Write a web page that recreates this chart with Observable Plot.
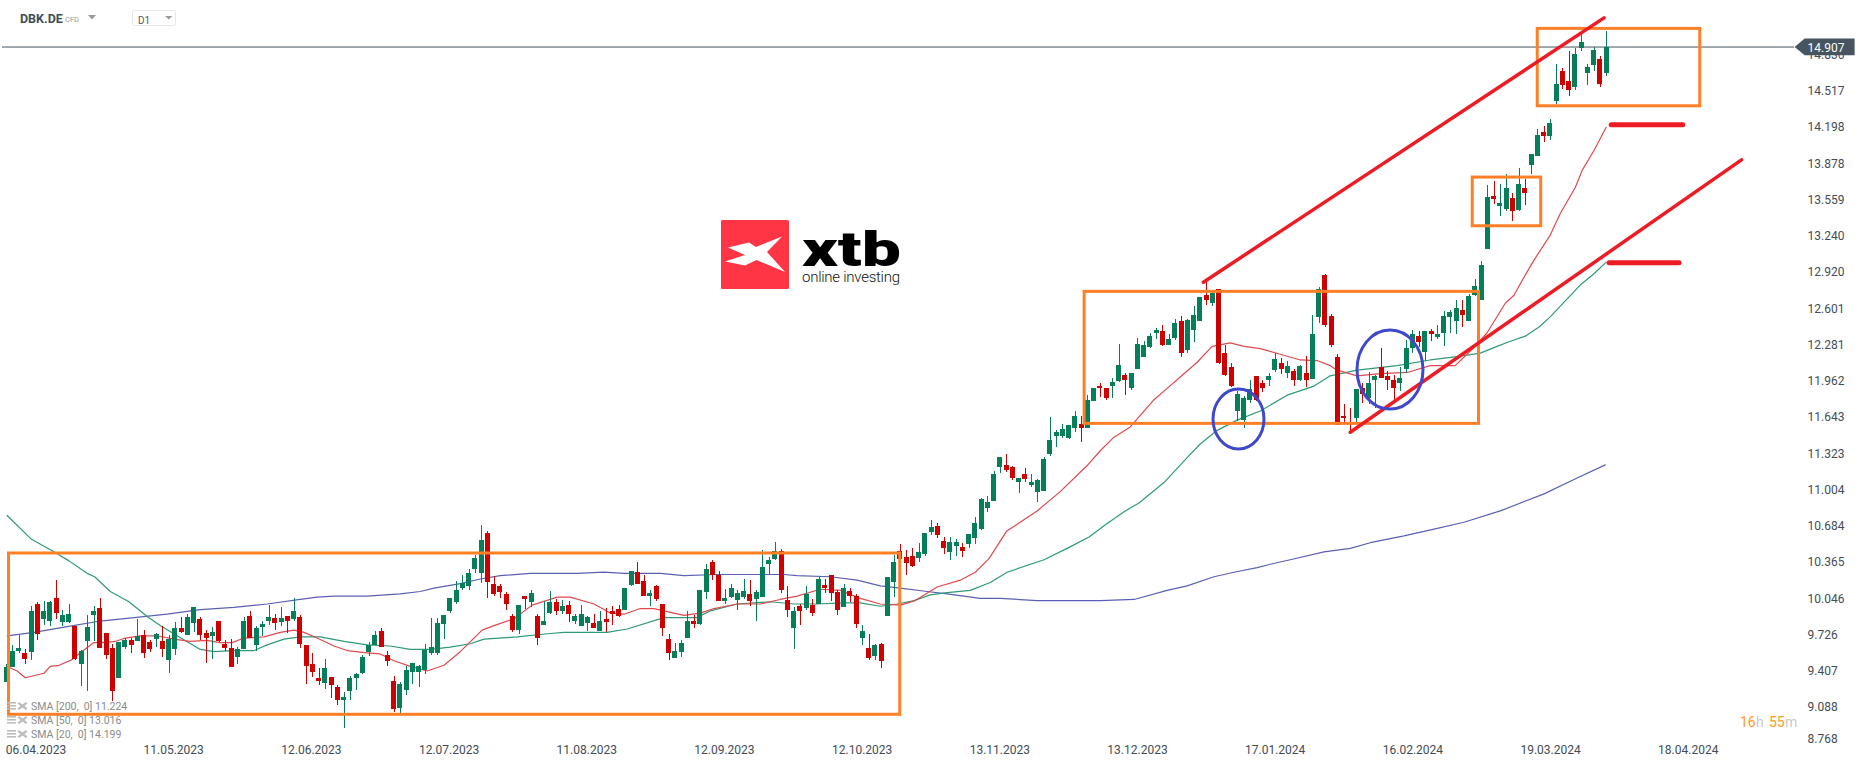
<!DOCTYPE html>
<html>
<head>
<meta charset="utf-8">
<script src="https://cdn.jsdelivr.net/npm/d3@7"></script>
<script src="https://cdn.jsdelivr.net/npm/@observablehq/plot@0.6"></script>
<style>
html,body{margin:0;padding:0;background:#fff;overflow:hidden}
#wrap{position:relative;width:1866px;height:767px;font-family:Roboto,sans-serif}
#wrap svg{display:block}
.abs{position:absolute;white-space:pre;line-height:1}
</style>
</head>
<body>
<div id="wrap"></div>
<script>
const directions = (
  "GGGRGRGGRG"+"GRGGGRRRGG"+"RGRRGRGGRG"+"GRRGRRRGGR"+"GGGRGRGRRR"+"RGRRGGGGGG"+
  "RRRGGGGGGG"+"GGGGGGGRRR"+"RRGRGRGGRG"+"RGGGRGRRRG"+"GRRGRRRGGG"+"RGGRRGGGGR"+
  "GGGGRRGRGR"+"GRRRGRRGRG"+"RGGRRRGGGR"+"RGGRGGGGGG"+"RRGRGGGGGG"+"GGRGGRRGGR"+
  "GGGGGRGGRG"+"GGRGRRRGGG"+"RRGGRGRGRG"+"GRRRRRGRGG"+"RRRGGGRGRG"+"GGGRGGGGRG"+
  "GRGRGGRGGR"+"RGGGGRG").split("");
const highs = [
9.47,9.63,9.72,9.60,9.98,10.01,10.02,10.02,10.21,9.94,
10.00,9.80,9.59,9.90,9.98,10.05,9.74,9.64,9.66,9.70,
9.70,9.86,9.77,9.68,9.74,9.80,9.72,9.84,9.88,9.91,
9.97,9.88,9.77,9.79,9.85,9.68,9.69,9.62,9.88,9.93,
9.80,9.85,9.99,9.91,9.97,9.89,10.05,9.90,9.63,9.56,
9.43,9.51,9.35,9.28,9.22,9.36,9.39,9.55,9.66,9.76,
9.78,9.58,9.36,9.31,9.45,9.48,9.46,9.64,9.87,9.87,
9.90,10.05,10.20,10.25,10.30,10.43,10.69,10.64,10.24,10.17,
10.10,9.91,9.99,10.07,10.12,9.91,10.02,10.11,10.04,10.03,
10.02,9.91,9.99,9.89,9.91,9.93,9.96,9.98,9.99,10.14,
10.29,10.37,10.25,10.12,10.16,10.00,9.73,9.65,9.68,9.93,
9.90,10.12,10.35,10.38,10.29,10.13,10.17,10.12,10.22,10.21,
10.12,10.47,10.41,10.54,10.48,10.15,9.97,10.00,10.15,10.04,
10.23,10.22,10.25,10.12,10.17,10.14,10.08,9.81,9.73,9.64,
9.65,10.23,10.43,10.52,10.47,10.49,10.53,10.62,10.74,10.71,
10.59,10.59,10.57,10.53,10.61,10.76,10.93,10.95,11.17,11.29,
11.32,11.21,11.11,11.19,11.14,11.10,11.29,11.64,11.53,11.58,
11.57,11.70,11.65,11.84,11.90,11.94,11.90,11.99,12.29,12.03,
12.03,12.34,12.31,12.38,12.43,12.45,12.37,12.51,12.53,12.51,
12.62,12.70,12.84,12.76,12.77,12.28,12.12,11.87,11.83,11.97,
12.00,11.97,12.03,12.21,12.16,12.14,12.07,12.10,12.18,12.54,
12.79,12.90,12.55,12.20,11.76,11.72,11.89,11.94,12.04,12.01,
12.25,12.05,12.01,12.08,12.32,12.41,12.40,12.40,12.42,12.45,
12.58,12.59,12.67,12.67,12.73,12.86,13.02,13.69,13.72,13.70,
13.78,13.62,13.84,13.74,13.96,14.18,14.21,14.27,14.75,14.72,
14.87,14.89,15.02,14.75,14.90,14.82,15.04];
const bodyTops = [
9.44,9.58,9.61,9.56,9.93,10.00,9.93,10.01,10.05,9.90,
9.91,9.80,9.58,9.79,9.93,9.96,9.74,9.61,9.66,9.68,
9.68,9.71,9.72,9.66,9.73,9.67,9.69,9.78,9.78,9.88,
9.97,9.86,9.74,9.75,9.85,9.64,9.61,9.60,9.85,9.89,
9.78,9.82,9.88,9.87,9.87,9.89,9.93,9.88,9.63,9.47,
9.34,9.43,9.35,9.26,9.18,9.34,9.38,9.53,9.63,9.72,
9.76,9.55,9.32,9.29,9.41,9.48,9.45,9.59,9.62,9.83,
9.90,10.05,10.12,10.18,10.27,10.40,10.56,10.62,10.17,10.15,
10.08,9.89,9.99,10.07,10.09,9.89,9.85,10.01,10.01,9.98,
9.99,9.89,9.91,9.88,9.83,9.85,9.86,9.93,9.95,10.14,
10.29,10.28,10.20,10.09,10.15,10.00,9.69,9.58,9.65,9.85,
9.85,10.12,10.30,10.37,10.25,10.05,10.14,10.09,10.11,10.08,
10.10,10.32,10.38,10.46,10.46,10.03,9.93,9.98,10.08,9.99,
10.22,10.16,10.25,10.10,10.14,10.11,10.07,9.76,9.61,9.63,
9.64,10.23,10.37,10.46,10.41,10.42,10.45,10.62,10.67,10.68,
10.55,10.54,10.54,10.50,10.61,10.71,10.92,10.89,11.14,11.29,
11.22,11.20,11.11,11.14,11.07,11.09,11.27,11.44,11.51,11.54,
11.57,11.65,11.58,11.79,11.90,11.92,11.90,11.95,12.10,12.01,
12.03,12.29,12.28,12.36,12.41,12.40,12.33,12.47,12.49,12.50,
12.54,12.70,12.72,12.74,12.77,12.21,12.08,11.85,11.81,11.89,
12.00,11.94,12.00,12.15,12.12,12.09,12.05,12.09,12.03,12.37,
12.77,12.89,12.53,12.17,11.65,11.60,11.89,11.90,11.94,12.00,
12.08,12.00,11.97,11.99,12.25,12.37,12.36,12.40,12.40,12.37,
12.53,12.57,12.60,12.59,12.71,12.80,12.98,13.58,13.59,13.53,
13.66,13.57,13.70,13.66,13.96,14.13,14.15,14.23,14.58,14.69,
14.60,14.84,14.95,14.73,14.88,14.80,14.907];
const bodyBottoms = [
9.31,9.44,9.58,9.51,9.57,9.73,9.86,9.85,9.92,9.84,
9.84,9.51,9.47,9.67,9.90,9.61,9.55,9.23,9.34,9.62,
9.63,9.67,9.56,9.60,9.69,9.60,9.50,9.60,9.75,9.72,
9.83,9.72,9.70,9.71,9.67,9.61,9.44,9.53,9.60,9.70,
9.63,9.79,9.85,9.83,9.84,9.85,9.86,9.64,9.45,9.40,
9.32,9.30,9.28,9.15,9.15,9.23,9.34,9.39,9.57,9.63,
9.62,9.49,9.07,9.08,9.24,9.40,9.40,9.41,9.56,9.56,
9.82,9.93,10.01,10.14,10.15,10.30,10.27,10.19,10.08,10.10,
10.00,9.77,9.77,10.04,10.01,9.70,9.81,9.92,9.93,9.93,
9.91,9.85,9.80,9.83,9.78,9.76,9.84,9.91,9.89,9.94,
10.16,10.17,10.07,10.07,10.04,9.78,9.56,9.52,9.57,9.70,
9.82,9.82,10.10,10.25,10.02,10.02,10.06,10.03,10.06,10.02,
10.04,10.06,10.35,10.39,10.12,9.94,9.78,9.93,9.96,9.92,
10.00,10.14,10.09,9.94,9.97,10.07,9.82,9.70,9.52,9.54,
9.49,9.89,10.19,10.39,10.36,10.33,10.40,10.44,10.63,10.60,
10.49,10.45,10.51,10.46,10.52,10.58,10.66,10.84,10.90,11.20,
11.18,11.11,11.07,11.10,11.04,10.98,10.99,11.32,11.48,11.48,
11.46,11.55,11.55,11.55,11.78,11.90,11.81,11.92,11.96,11.97,
11.90,12.07,12.17,12.26,12.38,12.28,12.28,12.34,12.21,12.23,
12.41,12.49,12.67,12.65,12.12,12.01,11.92,11.70,11.62,11.79,
11.79,11.90,11.97,12.06,12.07,12.03,11.97,11.97,11.97,11.98,
12.52,12.45,12.28,11.57,11.63,11.59,11.63,11.85,11.81,11.97,
11.99,11.97,11.90,11.94,12.07,12.25,12.30,12.22,12.37,12.35,
12.38,12.52,12.49,12.54,12.49,12.72,12.67,13.12,13.56,13.50,
13.48,13.46,13.47,13.62,13.86,13.94,14.12,14.12,14.43,14.57,
14.52,14.55,14.89,14.67,14.74,14.58,14.67];
const lows = [
9.31,9.44,9.56,9.47,9.50,9.68,9.81,9.80,9.86,9.80,
9.83,9.50,9.27,9.23,9.67,9.61,9.51,9.14,9.34,9.60,
9.56,9.67,9.52,9.57,9.62,9.53,9.39,9.55,9.74,9.72,
9.75,9.68,9.48,9.51,9.66,9.58,9.44,9.47,9.60,9.70,
9.58,9.71,9.81,9.77,9.80,9.74,9.85,9.61,9.29,9.35,
9.28,9.25,9.17,9.11,8.90,9.15,9.24,9.38,9.54,9.63,
9.62,9.45,9.04,9.03,9.19,9.29,9.26,9.38,9.55,9.55,
9.69,9.92,10.00,10.12,10.12,10.27,10.18,10.05,10.07,10.05,
9.94,9.75,9.73,9.95,9.97,9.63,9.81,9.91,9.90,9.91,
9.84,9.82,9.80,9.76,9.78,9.76,9.75,9.81,9.88,9.94,
10.15,10.17,10.07,9.98,10.02,9.71,9.50,9.52,9.53,9.70,
9.78,9.81,10.04,10.21,10.02,10.00,10.05,9.94,10.04,9.98,
9.85,10.06,10.26,10.38,10.09,9.88,9.60,9.81,9.94,9.89,
10.00,10.09,10.02,9.90,9.97,10.01,9.78,9.63,9.50,9.50,
9.43,9.89,10.06,10.39,10.25,10.32,10.37,10.42,10.60,10.58,
10.44,10.38,10.42,10.41,10.49,10.52,10.65,10.81,10.90,11.15,
11.16,11.09,10.97,11.07,11.03,10.89,10.99,11.30,11.38,11.46,
11.45,11.51,11.42,11.55,11.78,11.82,11.79,11.81,11.95,11.84,
11.88,12.07,12.17,12.25,12.33,12.27,12.28,12.32,12.17,12.21,
12.30,12.49,12.63,12.62,12.11,12.00,11.91,11.61,11.55,11.77,
11.78,11.86,11.92,12.04,12.02,11.99,11.92,11.96,11.91,11.98,
12.47,12.44,12.26,11.57,11.59,11.53,11.59,11.77,11.76,11.72,
11.99,11.88,11.79,11.87,12.03,12.21,12.26,12.14,12.31,12.33,
12.27,12.38,12.37,12.44,12.49,12.71,12.67,13.12,13.52,13.41,
13.46,13.37,13.46,13.51,13.78,13.94,14.07,14.08,14.40,14.53,
14.47,14.52,14.87,14.57,14.69,14.55,14.65];

// Moving averages: [session index, price]
const sma50 = [[0.1,10.78],[4,10.57],[7.3,10.47],[10,10.38],[12.9,10.27],[14.1,10.24],[16.6,10.11],[19.6,10.02],[22.5,9.89],[24.6,9.81],[27.3,9.72],[31,9.60],[33.2,9.58],[36.4,9.59],[39.6,9.59],[41.7,9.64],[44.4,9.69],[47,9.71],[50.2,9.71],[54,9.67],[57.7,9.64],[61.4,9.63],[64.6,9.60],[67.8,9.60],[71,9.62],[74.2,9.65],[76.4,9.69],[81.7,9.71],[87,9.74],[89.2,9.75],[96.1,9.75],[99.3,9.78],[105.2,9.88],[110.5,9.88],[112.6,9.94],[116.9,10.00],[122.2,10.02],[126,10.00],[129.7,10.00],[134,10.01],[136.6,10.01],[139.8,9.98],[142.5,10.00],[145.2,10.03],[147.8,10.08],[150.5,10.10],[154.2,10.12],[157.4,10.19],[160.1,10.28],[166,10.39],[169.7,10.49],[173.2,10.59],[176.1,10.71],[179,10.82],[181.2,10.89],[185.2,11.07],[188.9,11.29],[191,11.41],[193.7,11.53],[196.9,11.62],[200.6,11.70],[204.9,11.84],[209.2,11.92],[211.8,12.01],[216.1,12.06],[222.5,12.10],[227.8,12.15],[232.1,12.18],[235.8,12.21],[238.5,12.27],[240.4,12.31],[243,12.36],[245.2,12.44],[247,12.53],[249.4,12.67],[251.8,12.81],[254,12.91],[255.9,13.01]];
const sma20 = [[0.1,9.45],[1.7,9.41],[3,9.35],[6,9.39],[7,9.45],[8.4,9.46],[10.5,9.51],[11.8,9.57],[14,9.66],[15.6,9.66],[17.4,9.67],[19,9.70],[21.4,9.72],[24.1,9.72],[26.8,9.69],[29.4,9.67],[32.1,9.68],[34.2,9.66],[36.1,9.66],[38,9.70],[41.2,9.71],[43.8,9.75],[46,9.77],[47.6,9.75],[49.7,9.70],[52.4,9.63],[54.5,9.59],[57.7,9.57],[59.8,9.56],[62,9.50],[64.6,9.45],[67.3,9.41],[70,9.46],[72.6,9.58],[73.7,9.64],[76.1,9.77],[78,9.81],[81.2,9.87],[84.1,9.99],[88.1,10.06],[90.2,10.06],[94,10.00],[96.6,9.92],[98.8,9.91],[101.4,9.96],[103.6,9.96],[108.4,9.90],[111,9.92],[113.2,9.96],[116.9,10.00],[120.6,10.00],[123.8,10.04],[126.5,10.07],[130.2,10.13],[133.4,10.12],[136.6,10.05],[139.8,10.00],[143,9.99],[145.4,10.03],[148.9,10.15],[152.6,10.21],[155,10.28],[157.2,10.40],[160,10.64],[164.9,10.82],[168.6,10.99],[172.9,11.22],[175,11.35],[177.2,11.47],[179.8,11.56],[183.6,11.80],[185.7,11.90],[187.8,12.00],[190.5,12.13],[192.9,12.27],[195.8,12.30],[198,12.27],[200.6,12.25],[203.8,12.20],[207,12.15],[209.7,12.145],[211.8,12.10],[212.9,12.06],[216.1,12.01],[219.8,12.03],[224.1,12.04],[227.8,12.10],[231.8,12.10],[234.8,12.26],[236.9,12.39],[239.8,12.65],[241.2,12.72],[242.5,12.85],[244.4,13.03],[247,13.25],[248.6,13.44],[251,13.67],[252.1,13.82],[254,13.995],[255.95,14.20]];
const sma200 = [[0.1,9.72],[4.4,9.75],[9.7,9.80],[15,9.85],[20.4,9.88],[25.7,9.91],[31,9.95],[36.4,9.97],[41.7,10.00],[47,10.04],[49.7,10.06],[52.4,10.07],[57.7,10.07],[63,10.09],[66.2,10.11],[68.4,10.14],[72.6,10.18],[75.8,10.22],[79,10.25],[83.8,10.27],[91.3,10.27],[95.6,10.28],[98.8,10.27],[104.6,10.27],[108.4,10.25],[113.7,10.26],[124.4,10.26],[126.5,10.25],[131.8,10.24],[136.1,10.21],[139.8,10.16],[143,10.14],[147.3,10.11],[150.5,10.09],[155.8,10.05],[159,10.05],[164.9,10.03],[175,10.03],[180.4,10.04],[185.7,10.12],[188.9,10.16],[193.2,10.24],[196.4,10.28],[200.1,10.32],[202.2,10.35],[205.4,10.39],[210.8,10.46],[215,10.49],[218.2,10.54],[223.6,10.60],[228.4,10.66],[233.2,10.72],[239,10.82],[246,10.97],[251.3,11.11],[255.8,11.226]];

const priceTicks = [14.836,14.517,14.198,13.878,13.559,13.240,12.920,12.601,12.281,11.962,11.643,11.323,11.004,10.684,10.365,10.046,9.726,9.407,9.088];
const lastTick = [8.768];
const dateLabels = ["06.04.2023","11.05.2023","12.06.2023","12.07.2023","11.08.2023","12.09.2023","12.10.2023","13.11.2023","13.12.2023","17.01.2024","16.02.2024","19.03.2024","18.04.2024"];
const dateSessions = [4.72,26.75,48.78,70.81,92.84,114.87,136.9,158.93,180.96,202.99,225.02,247.05,269.08];
const currentPrice = 14.907;

// Annotation shapes, in session index and price
const boxes = [[0.4,143,10.445,9.024],[172.5,235.6,12.750,11.587],[234.6,245.55,13.757,13.328],[245,271,15.067,14.385]];
const redLines = [[191.5,12.835,255.6,15.164],[215,11.513,277.6,13.913]];
const redBars = [[256.75,268.2,14.222],[256.4,267.6,13.006]];
const ellipses = [[197.2,11.625,4.08,0.264],[221.44,12.061,5.28,0.348]];
const tagOutline = [[286.1,14.907],[287.7,14.982],[295.7,14.982],[295.7,14.835],[287.7,14.835]];

const GREEN="#047f59", RED="#cf0000", ORANGE="#ff7f27", REDLINE="#ed1c24", BLUE="#3f48cc", INK="#434d56";
const sessions = d3.range(directions.length);

const ellipseMark = (index, {x, y}) => {
  const g = d3.create("svg:g");
  for (const [c, v, rx, ry] of ellipses) {
    g.append("ellipse").attr("cx", x(c)).attr("cy", y(v))
      .attr("rx", x(c + rx) - x(c)).attr("ry", y(v - ry) - y(v))
      .attr("fill", "none").attr("stroke", BLUE).attr("stroke-width", 3);
  }
  return g.node();
};

const line = (pts, color, w) => Plot.line(pts, {x: d => d[0], y: d => d[1], stroke: color, strokeWidth: w, curve: "linear"});

const chart = Plot.plot({
  width: 1866, height: 767,
  marginLeft: 0, marginRight: 59, marginTop: 0, marginBottom: 24,
  style: {fontFamily: "Roboto, sans-serif", fontSize: "12px", background: "#fff", overflow: "visible"},
  x: {type: "linear", domain: [-0.96, 288.16], range: [0, 1807], axis: null},
  y: {type: "linear", domain: [8.771, 15.317], range: [743, 0], axis: null},
  color: {domain: ["G", "R"], range: [GREEN, RED]},
  marks: [
    Plot.ruleY([currentPrice], {x1: () => -0.64, x2: () => 286.1, stroke: "#46555f", strokeWidth: 1}),
    line(sma200, "#5a60b4", 1.2),
    line(sma50, "#2f9a76", 1.2),
    line(sma20, "#df4a4f", 1.2),
    Plot.ruleX(sessions, {x: i => i, y1: i => lows[i], y2: i => highs[i], stroke: i => directions[i], strokeWidth: 1, shapeRendering: "crispEdges"}),
    Plot.rect(sessions, {x1: i => i - 0.4, x2: i => i + 0.4, y1: i => bodyBottoms[i], y2: i => bodyTops[i], fill: i => directions[i], shapeRendering: "crispEdges"}),
    Plot.rect(boxes, {x1: d => d[0], x2: d => d[1], y1: d => d[3], y2: d => d[2], fill: "none", stroke: ORANGE, strokeWidth: 3}),
    Plot.link(redLines, {x1: d => d[0], y1: d => d[1], x2: d => d[2], y2: d => d[3], stroke: REDLINE, strokeWidth: 3.5, strokeLinecap: "round"}),
    Plot.link(redBars, {x1: d => d[0], x2: d => d[1], y1: d => d[2], y2: d => d[2], stroke: REDLINE, strokeWidth: 5, strokeLinecap: "round"}),
    ellipseMark,
    Plot.axisX({ticks: dateSessions, tickFormat: (d, i) => dateLabels[dateSessions.indexOf(d)], anchor: "bottom", tickSize: 0, tickPadding: 2, label: null, fill: INK, fontSize: 12}),
    Plot.axisY(priceTicks, {anchor: "right", tickSize: 0, tickPadding: 0, tickFormat: d => d.toFixed(3), label: null, fill: INK, fontSize: 12}),
    Plot.axisY(lastTick, {anchor: "right", tickSize: 0, tickPadding: 0, tickFormat: d => d.toFixed(3), label: null, fill: INK, fontSize: 12, dy: -5}),
    Plot.line(tagOutline, {x: d => d[0], y: d => d[1], fill: "#46555f", stroke: "none"}),
    Plot.text([currentPrice], {x: () => 288.16, y: () => currentPrice, text: d => d.toFixed(3), textAnchor: "start", fill: "#fff", fontSize: 12, dy: 1})
  ]
});

const wrap = document.getElementById("wrap");
wrap.appendChild(chart);

const overlay = [
  ["DBK.DE", 20, 13, "font-size:12.5px;font-weight:700;color:#3f4d57"],
  ["CFD", 65, 15.5, "font-size:7.5px;color:#9a9a9a"],
  ["SMA [200,  0] 11.224", 31, 702, "font-size:10.5px;color:#8b8b8b"],
  ["SMA [50,  0] 13.016", 31, 716, "font-size:10.5px;color:#8b8b8b"],
  ["SMA [20,  0] 14.199", 31, 730, "font-size:10.5px;color:#8b8b8b"],
  ["16", 1740, 715, "font-size:14px;color:#ff9c1f"],
  ["h", 1756, 715, "font-size:14px;color:#c9c9c9"],
  ["55", 1769, 715, "font-size:14px;color:#ff9c1f"],
  ["m", 1785, 715, "font-size:14px;color:#c9c9c9"]
];
for (const [t, l, top, css] of overlay) {
  const d = document.createElement("div");
  d.className = "abs"; d.textContent = t;
  d.style.cssText += `left:${l}px;top:${top}px;${css}`;
  wrap.appendChild(d);
}
const chrome = document.createElementNS("http://www.w3.org/2000/svg", "svg");
chrome.setAttribute("width", 1866); chrome.setAttribute("height", 767);
chrome.style.cssText = "position:absolute;left:0;top:0;pointer-events:none";
chrome.innerHTML = `
<polygon points="88,15 96,15 92,19.5" fill="#999"/>
<rect x="132.5" y="10.5" width="43" height="15" rx="2" fill="#fff" stroke="#e6e6e6"/>
<text x="138" y="24" font-family="Roboto" font-size="10" fill="#555">D1</text>
<polygon points="165,16 172.5,16 168.7,19.5" fill="#999"/>
<rect x="721" y="220" width="68" height="69" rx="1.5" fill="#ff3545"/>
<polygon points="728,247.5 749,242.5 756,247 782,236.5 767,252 785,272 756.5,260 745,265.5 725,261.5 745,255" fill="#fff"/>
<text x="802" y="266" font-family="Roboto" font-weight="900" font-size="48" fill="#000" textLength="99" lengthAdjust="spacingAndGlyphs">xtb</text>
<text x="802" y="281.5" font-family="Roboto" font-weight="300" font-size="15" fill="#111" textLength="98" lengthAdjust="spacing">online investing</text>
${[702,716,730].map(y => `
<g fill="#bdbdbd">
<rect x="7" y="${y}" width="9" height="1.6"/><rect x="7" y="${y+3}" width="9" height="1.6"/><rect x="7" y="${y+6}" width="9" height="1.6"/>
<path d="M19,${y} L22.5,${y+2.5} L26,${y} L27.5,${y+1.5} L24.5,${y+4} L27.5,${y+6.5} L26,${y+8} L22.5,${y+5.5} L19,${y+8} L17.5,${y+6.5} L20.5,${y+4} L17.5,${y+1.5} Z"/>
</g>`).join("")}`;
wrap.appendChild(chrome);
</script>
</body>
</html>
